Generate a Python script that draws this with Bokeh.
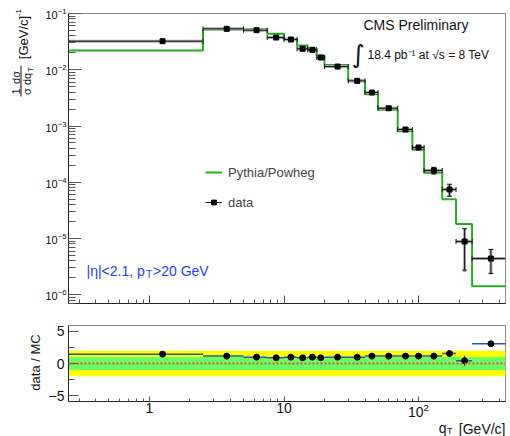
import numpy as np
from bokeh.plotting import figure
from bokeh.layouts import row, column
from bokeh.models import (ColumnDataSource, FixedTicker, Label, Legend, LegendItem,
                          Range1d, LogTickFormatter, BoxAnnotation, Span)
from bokeh.core.properties import value
from bokeh.embed import file_html
from bokeh.resources import INLINE

# ---- binning and measured spectrum ----
bin_edges = [0, 2.5, 5, 7.5, 10, 12.5, 15, 17.5, 20, 30, 40, 50, 70, 90, 110, 150, 190, 250, 600]
data_qt = [1.25, 3.75, 6.25, 8.75, 11.25, 13.75, 16.25, 18.75, 25, 35, 45, 60, 80, 100, 130, 170, 220, 345]
data_xsec = [0.0322, 0.0534, 0.0505, 0.0374, 0.0345, 0.0236, 0.0226, 0.0165, 0.0114, 0.00635,
             0.00394, 0.00207, 0.000867, 0.000415, 0.000162, 7.43e-5, 8.85e-6, 4.4e-6]
data_stat = [0.0008, 0.0012, 0.0012, 0.0010, 0.0010, 0.0008, 0.0008, 0.0007, 0.0004, 0.00025,
             0.00018, 0.00010, 0.00005, 0.00003, 2.2e-5, 1.8e-5, 6.1e-6, 2.0e-6]
data_syst = [0.0010, 0.0015, 0.0015, 0.0012, 0.0012, 0.0010, 0.0010, 0.0009, 0.0005, 0.0003,
             0.00022, 0.00012, 0.00006, 0.000035, 2.4e-5, 1.9e-5, 6.3e-6, 2.1e-6]

# ---- Pythia/Powheg prediction per bin ----
mc_xsec = [0.0220, 0.0520, 0.0526, 0.0436, 0.0355, 0.0270, 0.0236, 0.0179, 0.0122, 0.00645,
           0.00368, 0.00194, 0.00081, 0.00038, 0.000147, 5.0e-5, 1.82e-5, 1.42e-6]

# ---- lower panel ----
ratio = [1.46, 1.15, 0.99, 0.89, 0.99, 0.89, 0.99, 0.89, 0.99, 0.99, 1.15, 1.15, 1.15, 1.15,
         1.15, 1.56, 0.42, 3.07]
ratio_err = [0.08, 0.06, 0.06, 0.06, 0.06, 0.06, 0.06, 0.06, 0.06, 0.06, 0.07, 0.07, 0.08, 0.1,
             0.15, 0.2, 0.8, 0.5]

x_ticks = [1, 10, 100]
y_ticks_top = [1e-6, 1e-5, 1e-4, 1e-3, 1e-2, 1e-1]
y_ticks_bot = [-5, 0, 5]

X0, X1 = 0.25, 443.0
Y0, Y1 = 7.0e-7, 0.1
R0, R1 = -5.92, 5.92

FONT = "Liberation Sans"
GREEN = "#22b022"
BLUE = "#2340ff"
INK = "#111111"

# page geometry (pixels)
LEFT_W = 42          # strip holding the rotated y titles
MAIN_W = 510 - LEFT_W
TOP_H = 315
BOT_H = 104
FOOT_H = 436 - TOP_H - BOT_H

edges = np.array(bin_edges, dtype=float)
lo = np.maximum(edges[:-1], 1e-3)
hi = edges[1:]
qt = np.array(data_qt)
xs = np.array(data_xsec)
st = np.array(data_stat)
sy = np.array(data_syst)


def minor_log(lo_dec, hi_dec):
    return [m * 10.0 ** d for d in range(lo_dec, hi_dec + 1) for m in range(2, 10)]


def style_axes(p, xlab_size, ylab_size, xmaj, xmin, ymaj, ymin):
    p.grid.visible = False
    p.outline_line_color = "#8c8c8c"
    p.outline_line_width = 1
    for ax in p.axis:
        ax.axis_line_color = "#222222"
        ax.major_tick_line_color = "#555555"
        ax.minor_tick_line_color = "#555555"
        ax.major_tick_out = 0
        ax.minor_tick_out = 0
        ax.major_label_text_font = FONT
        ax.major_label_text_color = INK
    p.xaxis.major_tick_in = xmaj
    p.xaxis.minor_tick_in = xmin
    p.yaxis.major_tick_in = ymaj
    p.yaxis.minor_tick_in = ymin
    p.xaxis.major_label_text_font_size = xlab_size
    p.yaxis.major_label_text_font_size = ylab_size


# ================= upper panel =================
top = figure(width=MAIN_W, height=TOP_H, x_axis_type="log", y_axis_type="log",
             x_range=Range1d(X0, X1), y_range=Range1d(Y0, Y1),
             min_border_left=68 - LEFT_W, min_border_right=5, min_border_top=13, min_border_bottom=12,
             output_backend="svg", toolbar_location=None)
style_axes(top, "1px", "11px", 8, 4, 13, 7)
top.xaxis.ticker = FixedTicker(ticks=x_ticks, minor_ticks=minor_log(-1, 2))
top.xaxis.major_label_text_color = None
top.xaxis.major_label_standoff = 0
top.yaxis.ticker = FixedTicker(ticks=y_ticks_top, minor_ticks=minor_log(-7, -2))
top.yaxis.formatter = LogTickFormatter()
top.yaxis.major_label_standoff = 2

# prediction as a step histogram
step_x = np.repeat(np.concatenate([[lo[0]], hi]), 2)[1:-1]
step_y = np.repeat(np.array(mc_xsec), 2)
mc_line = top.line(step_x, step_y, line_color=GREEN, line_width=2)

# data: systematic (grey) below, statistical (black) on top
dsrc = ColumnDataSource(dict(qt=qt, y=xs, lo=lo, hi=hi,
                             slo=xs - st, shi=xs + st, ylo=xs - sy, yhi=xs + sy))
top.segment(x0="lo", x1="hi", y0="y", y1="y", source=dsrc, line_color="#a8a8a8", line_width=3)
top.segment(x0="qt", x1="qt", y0="ylo", y1="yhi", source=dsrc, line_color="#a8a8a8", line_width=3)
hseg = top.segment(x0="lo", x1="hi", y0="y", y1="y", source=dsrc, line_color=INK, line_width=1)
top.segment(x0="qt", x1="qt", y0="slo", y1="shi", source=dsrc, line_color=INK, line_width=1)
top.scatter(x="lo", y="y", source=dsrc, marker="dash", angle=np.pi / 2, size=5, line_color=INK)
top.scatter(x="hi", y="y", source=dsrc, marker="dash", angle=np.pi / 2, size=5, line_color=INK)
top.scatter(x="qt", y="slo", source=dsrc, marker="dash", size=5, line_color=INK)
top.scatter(x="qt", y="shi", source=dsrc, marker="dash", size=5, line_color=INK)
pts = top.scatter(x="qt", y="y", source=dsrc, marker="square", size=5,
                  fill_color="black", line_color="black")

legend = Legend(items=[LegendItem(label="Pythia/Powheg", renderers=[mc_line]),
                       LegendItem(label="data", renderers=[hseg, pts])],
                location=(137, 91), orientation="vertical", glyph_width=17, glyph_height=12,
                label_height=20, spacing=10, padding=0, margin=0, label_standoff=6,
                label_text_font=FONT, label_text_font_size="13px",
                border_line_color=None, background_fill_alpha=0)
top.add_layout(legend)

# canvas pixel -> data helpers for text placement in the upper panel
def tx(cx):
    return float(10 ** (np.log10(X0) + (cx - 68) / 437.0 * (np.log10(X1) - np.log10(X0))))

def ty(cy):
    return float(10 ** (np.log10(Y1) - (cy - 13) / 290.0 * (np.log10(Y1) - np.log10(Y0))))

def add_text(p, x, y, text, size, color=INK, align="left", font=FONT):
    p.add_layout(Label(x=x, y=y, text=text, text_font=font, text_font_size=size,
                       text_color=color, text_align=align, text_baseline="middle"))

add_text(top, tx(363), ty(24), "CMS Preliminary", "14px")
add_text(top, tx(351), ty(54), "\u222b", "25px", font="DejaVu Sans")
add_text(top, tx(367), ty(54), "18.4 pb\u207b\u00b9 at \u221as = 8 TeV", "12px")
add_text(top, tx(86), ty(270), "|\u03b7|<2.1, p", "14px", color=BLUE)
add_text(top, tx(145.5), ty(274), "T", "10px", color=BLUE)
add_text(top, tx(152.5), ty(270), ">20 GeV", "14px", color=BLUE)

# ================= lower panel =================
bot = figure(width=MAIN_W, height=BOT_H, x_axis_type="log",
             x_range=top.x_range, y_range=Range1d(R0, R1),
             min_border_left=68 - LEFT_W, min_border_right=5, min_border_top=10,
             min_border_bottom=BOT_H - 87,
             output_backend="svg", toolbar_location=None)
style_axes(bot, "14px", "14px", 5, 3, 10, 6)
bot.xaxis.ticker = FixedTicker(ticks=x_ticks, minor_ticks=minor_log(-1, 2))
bot.xaxis.formatter = LogTickFormatter(min_exponent=2)
bot.yaxis.ticker = FixedTicker(ticks=y_ticks_bot, minor_ticks=[-2.5, 2.5])
bot.yaxis.major_label_standoff = 4
bot.xaxis.major_label_standoff = 1

bot.add_layout(BoxAnnotation(bottom=-2, top=2, fill_color="#ffff00", fill_alpha=1, line_color=None, level="underlay"))
bot.add_layout(BoxAnnotation(bottom=-1, top=1, fill_color="#66ff66", fill_alpha=1, line_color=None, level="underlay"))
bot.add_layout(Span(location=0, dimension="width", line_color="#ff4020", line_width=2, line_dash="2 2"))

r = np.array(ratio)
re = np.array(ratio_err)
rsrc = ColumnDataSource(dict(qt=qt, r=r, lo=lo, hi=hi, rlo=r - re, rhi=r + re))
bot.segment(x0="lo", x1="hi", y0="r", y1="r", source=rsrc, line_color="#3050b0", line_width=1.5)
bot.segment(x0="qt", x1="qt", y0="rlo", y1="rhi", source=rsrc, line_color="#222222", line_width=1)
bot.scatter(x="qt", y="r", source=rsrc, marker="circle", size=6, fill_color="black", line_color="black")


def text_strip(width, height, y_top):
    """A bare figure whose data units are page pixels (y counted from the page top)."""
    f = figure(width=width, height=height, x_range=Range1d(0, width),
               y_range=Range1d(436 - y_top - height, 436 - y_top),
               min_border=0, output_backend="svg", toolbar_location=None)
    f.axis.visible = False
    f.grid.visible = False
    f.outline_line_color = None
    return f


def put(f, cx, cy, text, size, angle=0.0, align="center"):
    f.text(x=[cx], y=[436 - cy], text=[text], angle=angle,
           text_font=value(FONT), text_font_size=value(size), text_color=INK,
           text_align=align, text_baseline="middle")


# ================= rotated y titles =================
side = text_strip(LEFT_W, TOP_H + BOT_H, 0)
R = np.pi / 2
put(side, 15.5, 91, "1", "11px", R)
put(side, 26, 91, "\u03c3", "11px", R)
put(side, 15.5, 77, "d\u03c3", "11px", R)
put(side, 26, 78.5, "dq", "11px", R)
put(side, 29.5, 69, "T", "8px", R)
side.segment(x0=[20.5, 20.5], x1=[20.5, 20.5], y0=[436 - 86, 436 - 65], y1=[436 - 96, 436 - 87],
             line_color=INK, line_width=1)
put(side, 23, 37, "[GeV/c]", "13px", R)
put(side, 18, 12, "-1", "8px", R)
put(side, 35, 362, "data / MC", "13px", R)

# ================= x title =================
foot = text_strip(510, FOOT_H, TOP_H + BOT_H)
put(foot, 505, 428, "[GeV/c]", "14px", align="right")
put(foot, 452, 430, "T", "9px", align="right")
put(foot, 446, 427, "q", "14px", align="right")

layout = column(row(side, column(top, bot, spacing=0), spacing=0), foot, spacing=0)
open("out.html", "w").write(file_html(layout, INLINE))
